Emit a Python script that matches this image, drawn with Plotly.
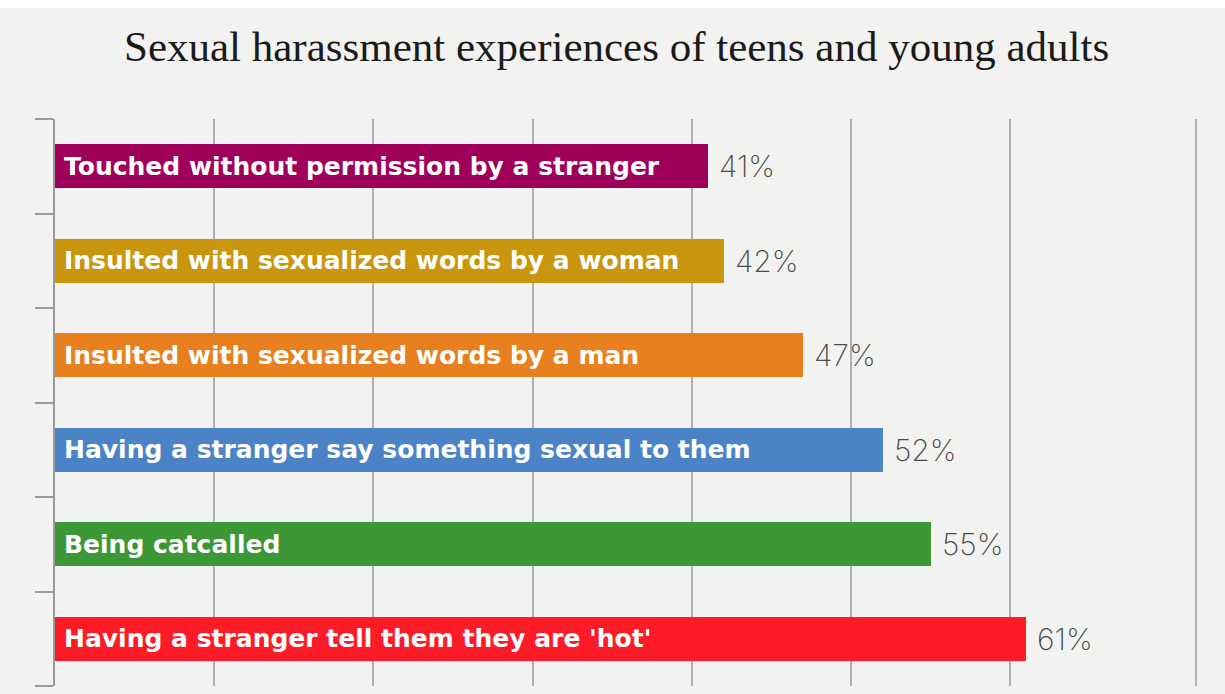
import plotly.graph_objects as go

categories = [
    "Touched without permission by a stranger",
    "Insulted with sexualized words by a woman",
    "Insulted with sexualized words by a man",
    "Having a stranger say something sexual to them",
    "Being catcalled",
    "Having a stranger tell them they are 'hot'",
]
values = [41, 42, 47, 52, 55, 61]
colors = ["#9e005a", "#c9960e", "#e8801f", "#4c83c7", "#3d9737", "#fd1b27"]
value_labels = ["41%", "42%", "47%", "52%", "55%", "61%"]
title_text = "Sexual harassment experiences of teens and young adults"

W, H = 1225, 694
ML, MR, MT, MB = 55, 29, 119, 8
BG = "#f2f2f0"

ypos = list(range(len(categories)))

fig = go.Figure()
fig.add_trace(go.Bar(
    x=values, y=ypos, orientation="h",
    marker=dict(color=colors, line=dict(width=0)),
    width=0.47, hoverinfo="skip", showlegend=False,
))

annotations = []
for i, (cat, v, lab) in enumerate(zip(categories, values, value_labels)):
    annotations.append(dict(
        x=0, y=i, xref="x", yref="y", text=cat, showarrow=False,
        xanchor="left", yanchor="middle", xshift=7,
        font=dict(family="DejaVu Sans", size=25, color="white", weight=700),
    ))
    annotations.append(dict(
        x=v, y=i, xref="x", yref="y", text=lab, showarrow=False,
        xanchor="left", yanchor="middle", xshift=9,
        font=dict(family="Inter", size=30, color="#4a4a4a", weight=200),
    ))

plot_h = H - MT - MB
annotations.append(dict(
    x=0.5, y=(H - MB - 46) / plot_h, xref="paper", yref="paper",
    text=title_text, showarrow=False, xanchor="center", yanchor="middle",
    xshift=-(ML - MR) / 2 + 4,
    font=dict(family="Liberation Serif", size=43, color="#1a1a1a"),
))

shapes = [
    dict(type="rect", xref="paper", yref="paper",
         x0=-ML / (W - ML - MR), x1=1 + MR / (W - ML - MR),
         y0=1 + (MT - 8) / plot_h, y1=1 + MT / plot_h + 0.01,
         fillcolor="white", line=dict(width=0), layer="below"),
    dict(type="line", xref="paper", yref="paper", x0=1, x1=1, y0=0, y1=1,
         line=dict(color="#b5b5b5", width=2), layer="below"),
]

fig.update_layout(
    width=W, height=H,
    margin=dict(l=ML, r=MR, t=MT, b=MB, pad=0),
    paper_bgcolor=BG, plot_bgcolor=BG,
    bargap=0,
    xaxis=dict(range=[0, 71.65], tickvals=[10, 20, 30, 40, 50, 60],
               showticklabels=False, showgrid=True, gridcolor="#b0b0b0",
               gridwidth=1.5, zeroline=False, showline=False, ticks="", fixedrange=True),
    yaxis=dict(range=[5.5, -0.5], tickvals=[-0.5, 0.5, 1.5, 2.5, 3.5, 4.5, 5.5],
               showticklabels=False, showgrid=False, zeroline=False,
               showline=True, linecolor="#9a9a9a", linewidth=1.5,
               ticks="outside", ticklen=18, tickcolor="#9a9a9a", tickwidth=1.5,
               fixedrange=True),
    annotations=annotations,
    shapes=shapes,
)

fig.write_html("out.html", config={"displayModeBar": False})
